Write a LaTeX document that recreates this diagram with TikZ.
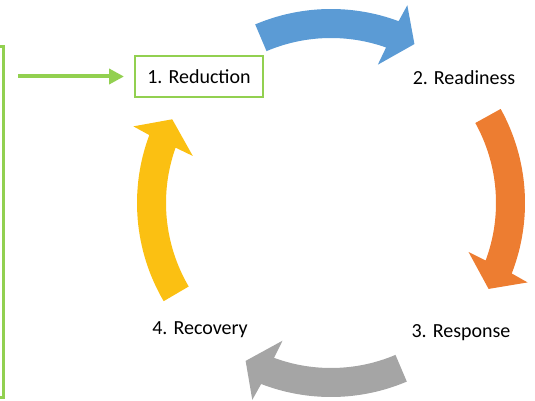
\documentclass[tikz,border=0pt]{standalone}
\usepackage{fontspec}
\setmainfont{Carlito}
\usetikzlibrary{arrows.meta}

\definecolor{cblue}{HTML}{5B9BD5}
\definecolor{corange}{HTML}{ED7D31}
\definecolor{cgray}{HTML}{A5A5A5}
\definecolor{cyellow}{HTML}{FBC012}
\definecolor{lgreen}{HTML}{92D050}

% #1 colour, #2 start angle, #3 tip angle, #4 direction (+1 clockwise, -1 anticlockwise)
\newcommand{\cyclearrow}[4]{%
  \pgfmathsetmacro{\bo}{#3+#4*6.6}%
  \pgfmathsetmacro{\bi}{#3+#4*9.0}%
  \pgfmathsetmacro{\eo}{#3+#4*7.3}%
  \pgfmathsetmacro{\ei}{#3+#4*8.2}%
  \fill[#1] (#2:194pt) arc[start angle=#2, end angle=\eo, radius=194pt]
    -- (\bo:212pt) -- (#3:179.5pt) -- (\bi:146pt) -- (\ei:165pt)
    arc[start angle=\ei, end angle=#2, radius=165pt] -- cycle;
}

\begin{document}
\begin{tikzpicture}[x=1pt, y=1pt,
    every node/.style={font=\fontsize{20}{24}\selectfont},
    frame/.style={draw=lgreen, line width=2pt, minimum width=128pt, minimum height=41pt, inner sep=0pt}]
    \clip (0,0) rectangle (535,-401);

    % --- cycle ---
    \begin{scope}[shift={(331,-203)}]
        \cyclearrow{cblue}{113}{62.3}{1}
        \cyclearrow{corange}{29}{-28.6}{1}
        \cyclearrow{cgray}{-67}{-118.4}{1}
        \cyclearrow{cyellow}{-149.6}{-207.8}{1}
    \end{scope}

    % --- stages ---
    \node[frame] (red) at (199,-76.5) {1. Reduction};
    \node (rdy) at (464,-78) {2. Readiness};
    \node (rsp) at (461,-333) {3. Response};
    \node (rcv) at (200,-330) {4. Recovery};

    % --- plan (cut off at the left) ---
    \node[draw=lgreen, line width=3.3pt, minimum width=80pt, minimum height=351pt, anchor=north east] (plan) at (5,-45) {};
    \draw[lgreen, line width=4pt, -{Triangle[length=15pt, width=15pt]}, shorten <=13pt, shorten >=10pt]
        (plan.east |- red.west) -- (red.west);
\end{tikzpicture}
\end{document}
